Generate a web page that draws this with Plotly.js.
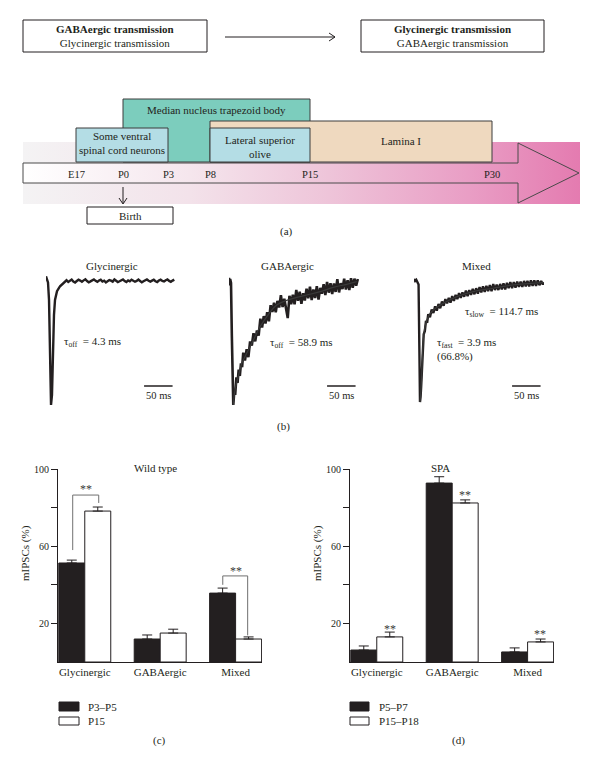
<!DOCTYPE html>
<html><head><meta charset="utf-8">
<script src="https://cdn.plot.ly/plotly-3.0.1.min.js"></script>
<style>html,body{margin:0;padding:0;background:#fff}#chart{width:600px;height:767px}</style>
</head><body><div id="chart"></div>
<script>
// ---------- (a) timeline content ----------
const stages = ['E17','P0','P3','P8','P15','P30'];
const regionNames = ['Median nucleus trapezoid body','Some ventral<br>spinal cord neurons','Lamina I','Lateral superior<br>olive'];
const regionFrom = ['P0','E17','P8','P8'];
const regionTo   = ['P15','P3','P30','P15'];
const topLeft  = ['GABAergic transmission','Glycinergic transmission'];
const topRight = ['Glycinergic transmission','GABAergic transmission'];

// ---------- (b) example mIPSC traces (t in ms, current normalised to peak = -100) ----------
const traceTitles = ['Glycinergic','GABAergic','Mixed'];
const gly_t = [0,1.8,3.5,5.3,7,8.8,10.5,12.3,14,15.8,19.3,24.6,30,
  33,36,39,42,45,48,51,54,57,60,63,66,69,72,75,78,81,84,87,90,93,96,99,102,105,108,111,114,117,120,123,126,129,132,
  135,138,141,144,147,150,153,156,159,162,165,168,171,174,177,180,183,186,189,192,195,198,201,204,207,210,213,216,219,222,225];
const gly_i = [3,0,-2,-16,-64,-100,-92,-56,-28,-16,-9,-5,-2.5,
  -1,-0.2,-1.6,-0.6,0.4,-1.2,-2,-0.8,0.2,-0.5,
  -1.4,-0.3,0.6,-0.9,-1.8,-1.1,-0.2,0.5,-0.7,-1.5,
  -0.4,0.3,-1.2,-0.6,-1.9,-0.8,0,-0.5,-1.3,0.4,
  -0.6,-1.6,-1,-0.1,0.5,-0.9,-1.7,-0.4,-1.1,0.2,
  -0.5,-1.4,-0.7,0.3,-0.8,-1.9,-1,-0.3,0.4,-0.6,
  -1.3,-0.5,0.2,-1,-1.6,-0.4,0.3,-0.8,-1.2,-0.2,
  0.4,-0.7,-1.4,-0.5,0.3];
const gaba_t = [0,1,2,3.5,5,7.5,9,11,13,15,17,19,21,23,25,
  28,31,34,37,40,43,46,49,52,55,58,61,64,67,70,73,76,79,82,85,88,91,94,97,100,103,106,109,112,115,118,121,124,127,130,133,136,139,142,145,148,151,154,157,160,163,166,169,172,175,178,181,184,187,190,193,196,199,202,205,208,211,214,217,220,223,226];
const gaba_i = [1,-5,0,-3,-45,-100,-91,-91,-78,-82.5,-72,-77,-67,-70,-58.5,
  -64.7,-55.8,-62,-49.5,-52.8,-43,-49.5,-40.9,-45,-31.5,
  -38.5,-29.4,-35.3,-26.4,-33.6,-20.8,-26.2,-18.8,-26.4,-17.3,
  -22.6,-12.9,-22.2,-15.7,-22.2,-31,-13.3,-20,-12.4,-20.1,
  -8.6,-17.3,-10,-19.6,-11.3,-17,-7.7,-15.3,-6,-16.7,
  -8.3,-15,-5.7,-16.3,-7,-11.6,-4.1,-12.7,-2.3,-10.8,
  -3.4,-11.9,-3.5,-10.2,-0.1,-10.6,-3.3,-8,0.3,-8.3,
  -1,-8.8,0.6,-7,0.3,-5.3,0];
const gaba_fit_t = [7.5,10.5,16.3,22.3,28,36.8,45.6,54.4,66,75,83.7,95,112.8,136,160,183,206.5,224];
const gaba_fit_i = [-100,-88,-77.5,-67,-61.7,-53.7,-45.8,-37.9,-30,-24.6,-20.6,-18,-15.3,-12.7,-10,-6.6,-4.2,-2.1];
const mix_t = [0,2,4,6,8,9.5,10.5,11.5,12.5,13.5,14.5,15.5,17,19,21,23,25,
  28,31,34,37,40,43,46,49,52,55,58,61,64,67,70,73,76,79,82,85,88,91,94,97,100,103,106,109,112,115,118,121,124,127,130,133,136,139,142,145,148,151,154,157,160,163,166,169,172,175,178,181,184,187,190,193,196,199,202,205,208,211,214,217,220,223,226,228];
const mix_i = [1.7,0,1,-1,-3,-60,-100,-96,-88,-77,-66,-56,-44,-41.5,-33,-34.5,-27.5,
  -30,-23.5,-26.5,-21,-24.5,-19,-22.5,-17,-20.5,-15,
  -18.5,-14,-17.9,-12.5,-16.5,-11.5,-15,-10,-14,-9.5,
  -13,-8,-12.5,-7.5,-11.5,-6.5,-11,-6,-10.5,-5,
  -9.5,-4.5,-9,-4,-8.5,-3.5,-8.5,-2.5,-7.5,-3,
  -7.5,-2.5,-7,-2,-7,-1.5,-6,-1,-6,-1,
  -5.5,-0.5,-5,-0.5,-5,0,-4.5,0,-4.5,0.5,
  -4,0.5,-4,0.5,-3.5,0,-3,-1];
const mix_fit_t = [10.5,12.3,14.6,16.3,19.3,25,34,51.4,74.9,104,139,174,209,228];
const mix_fit_i = [-100,-90,-65,-49,-37.8,-29.5,-24,-18.4,-13,-8.8,-6,-3.3,-1.9,-1.4];
const tauTexts = [['τ<sub>off</sub>\u00a0\u00a0= 4.3 ms'],['τ<sub>off</sub>\u00a0\u00a0= 58.9 ms'],['τ<sub>slow</sub>\u00a0\u00a0= 114.7 ms','τ<sub>fast</sub>\u00a0\u00a0= 3.9 ms<br>(66.8%)']];

// ---------- (c), (d) bar charts ----------
const categories = ['Glycinergic','GABAergic','Mixed'];
const wtNames = ['P3–P5','P15'];
const wt_early = [51.3, 11.9, 35.7];
const wt_early_err = [1.5, 2.1, 2.6];
const wt_late = [78.2, 15.0, 11.9];
const wt_late_err = [2.1, 2.0, 1.1];
const spaNames = ['P5–P7','P15–P18'];
const spa_early = [6.2, 92.7, 5.2];
const spa_early_err = [2.1, 3.3, 2.1];
const spa_late = [13.0, 82.4, 10.4];
const spa_late_err = [2.5, 1.6, 1.5];
const yTickVals = [20,60,100];
const yMinorVals = [40,80];

// ---------- layout helpers ----------
const W=600,H=767, INK='#231f20', FONT='Liberation Serif, Times New Roman, serif';
const PX=x=>x/W, PY=y=>1-y/H;
const stagePos = {E17:76,P0:123,P3:168,P8:210,P15:310,P30:492};
const regionTop = [99,128,121,128];
const regionFill = ['#7ccdbd','#b4dde5','#efd9bf','#b4dde5'];
const regionLabelY = [110,143,141,147];
const BOX_BOTTOM = 162;

const traces = [];
const shapes = [];
const ann = [];
function A(text,x,y,o){ann.push(Object.assign({text:text,x:x,y:y,xref:'x6',yref:'y6',showarrow:false,xanchor:'center',yanchor:'middle',font:{family:FONT,size:11,color:INK}},o||{}));}

// gradient band + arrow
const pinkScale = [[0,'#f4f3f4'],[0.3,'#f3e2ea'],[0.55,'#eec4d9'],[0.8,'#e99ec5'],[1,'#e47bb0']];
traces.push({type:'scatter',xaxis:'x6',yaxis:'y6',x:[23,580,580,23,23],y:[142,142,204,204,142],mode:'lines',line:{width:0},fill:'toself',
  fillgradient:{type:'horizontal',colorscale:pinkScale},hoverinfo:'skip'});
traces.push({type:'scatter',xaxis:'x6',yaxis:'y6',x:[23,518,518,579,518,518,23,23],y:[163,163,143,173,203,183,183,163],mode:'lines',
  line:{width:1,color:'#4a4a4a'},fill:'toself',
  fillgradient:{type:'horizontal',colorscale:[[0,'#ffffff'],[0.3,'#f5e6ed'],[0.55,'#eec4d9'],[0.8,'#e99ec5'],[1,'#e47bb0']]},hoverinfo:'skip'});

// region boxes
regionNames.forEach((n,i)=>{
  const x0=stagePos[regionFrom[i]], x1=stagePos[regionTo[i]];
  shapes.push({type:'rect',xref:'x6',yref:'y6',x0:x0,x1:x1,y0:regionTop[i],y1:BOX_BOTTOM,fillcolor:regionFill[i],line:{color:'#3c3c3c',width:1}});
  const cx = (n==='Lamina I') ? (stagePos['P15']+stagePos['P30'])/2 : (x0+x1)/2;
  A(n,cx,regionLabelY[i],{});
});
stages.forEach(s=>A(s,stagePos[s],174,{font:{family:FONT,size:10.5,color:INK}}));
// birth
shapes.push({type:'line',xref:'x6',yref:'y6',x0:stagePos.P0,x1:stagePos.P0,y0:187,y1:203,line:{color:INK,width:1}});
shapes.push({type:'path',xref:'x6',yref:'y6',path:`M ${stagePos.P0-4} 198 L ${stagePos.P0} 204 L ${stagePos.P0+4} 198`,line:{color:INK,width:1}});
shapes.push({type:'rect',xref:'x6',yref:'y6',x0:87,x1:173,y0:207,y1:224,line:{color:INK,width:1},fillcolor:'#ffffff'});
A('Birth',130,215.5,{});
// top boxes
shapes.push({type:'rect',xref:'x6',yref:'y6',x0:23,x1:207,y0:20,y1:52,line:{color:INK,width:1}});
shapes.push({type:'rect',xref:'x6',yref:'y6',x0:361,x1:544,y0:20,y1:52,line:{color:INK,width:1}});
A('<b>'+topLeft[0]+'</b><br>'+topLeft[1],115,36,{});
A('<b>'+topRight[0]+'</b><br>'+topRight[1],452.5,36,{});
shapes.push({type:'line',xref:'x6',yref:'y6',x0:225,x1:335,y0:37,y1:37,line:{color:INK,width:1}});
shapes.push({type:'path',xref:'x6',yref:'y6',path:'M 329 33 L 335 37 L 329 41',line:{color:INK,width:1}});
A('(a)',286,231,{});

// ---------- (b) ----------
const tr = [[gly_t,gly_i,null,null],[gaba_t,gaba_i,gaba_fit_t,gaba_fit_i],[mix_t,mix_i,mix_fit_t,mix_fit_i]];
const trDomX = [[46,176],[229,359],[414,544]];
const trRangeY = [[-104,6.4],[-104,5.6],[-106.6,7.4]];
tr.forEach((d,k)=>{
  const ax = k+1;
  const xr = 'x'+(ax===1?'':ax), yr = 'y'+(ax===1?'':ax);
  traces.push({type:'scatter',mode:'lines',x:d[0],y:d[1],xaxis:xr,yaxis:yr,
    line:{color:INK,width:k===1?2.6:2.4},cliponaxis:false,hoverinfo:'skip'});
  if(d[2]) traces.push({type:'scatter',mode:'lines',x:d[2],y:d[3],xaxis:xr,yaxis:yr,
    line:{color:'#3a3a3a',width:1.2,shape:'spline'},cliponaxis:false,hoverinfo:'skip'});
  shapes.push({type:'line',xref:xr,yref:'y6',x0:172,x1:222,y0:386,y1:386,line:{color:INK,width:1.5}});
  ann.push({text:'50 ms',x:197,y:PY(395),xref:xr,yref:'paper',showarrow:false,xanchor:'center',yanchor:'middle',font:{family:FONT,size:10.5,color:INK}});
});
A(traceTitles[0],112,266,{});
A(traceTitles[1],287,266,{});
A(traceTitles[2],476,266,{});
A(tauTexts[0][0],62,342,{xanchor:'left'});
A(tauTexts[1][0],268,343,{xanchor:'left'});
A(tauTexts[2][0],463,312,{xanchor:'left'});
A(tauTexts[2][1],435,349,{xanchor:'left',align:'left'});
A('(b)',283,426,{});

// ---------- (c), (d) ----------
function barTrace(vals,errs,name,fill,ax){
  return {type:'bar',x:categories,y:vals,name:name,xaxis:'x'+ax,yaxis:'y'+ax,
    marker:{color:fill,line:{color:INK,width:1}},
    error_y:{type:'data',array:errs,arrayminus:errs.map(()=>0),symmetric:false,color:INK,thickness:1,width:5},
    hoverinfo:'skip'};
}
traces.push(barTrace(wt_early,wt_early_err,wtNames[0],INK,4));
traces.push(barTrace(wt_late,wt_late_err,wtNames[1],'#ffffff',4));
traces.push(barTrace(spa_early,spa_early_err,spaNames[0],INK,5));
traces.push(barTrace(spa_late,spa_late_err,spaNames[1],'#ffffff',5));

function barAxes(x0,x1){
  return [{domain:[PX(x0),PX(x1)],range:[-0.355,2.35],type:'category',showline:true,linecolor:INK,linewidth:1,ticks:'',
      showgrid:false,zeroline:false,tickfont:{family:FONT,size:11,color:INK},fixedrange:true},
    {domain:[PY(662),PY(469)],range:[0,100],showline:true,linecolor:INK,linewidth:1,ticks:'outside',ticklen:6,tickwidth:1,tickcolor:INK,
      tickmode:'array',tickvals:yTickVals,showgrid:false,zeroline:false,tickfont:{family:FONT,size:10,color:INK},fixedrange:true,
      minor:{tickmode:'array',tickvals:yMinorVals,ticks:'outside',ticklen:6,tickwidth:1,tickcolor:INK,showgrid:false}}];
}
const [xa4,ya4] = barAxes(58,262);
const [xa5,ya5] = barAxes(350,554);
xa4.anchor='y4'; ya4.anchor='x4'; xa5.anchor='y5'; ya5.anchor='x5';

// brackets & stars
const BR='#707070';
function seg(ax,x0,y0,x1,y1){shapes.push({type:'line',xref:'x'+ax,yref:'y'+ax,x0:x0,x1:x1,y0:y0,y1:y1,line:{color:BR,width:1}});}
seg(4,-0.16,58,-0.16,86.5); seg(4,-0.16,86.5,0.185,86.5); seg(4,0.185,86.5,0.185,82.4);
seg(4,1.83,40,1.83,44.6); seg(4,1.83,44.6,2.16,44.6); seg(4,2.16,44.6,2.16,13.8);
function star(ax,x,y){ann.push({text:'**',x:x,y:y,xref:'x'+ax,yref:'y'+ax,showarrow:false,xanchor:'center',yanchor:'middle',font:{family:FONT,size:12,color:'#3a3a3a'}});}
star(4,0.01,89.5); star(4,2.0,47.2);
star(5,0.17,17.1); star(5,1.17,86.6); star(5,2.17,14.5);

A('Wild type',155,468,{});
A('SPA',440,468,{});
A('mIPSCs (%)',25,553,{textangle:-90});
A('mIPSCs (%)',317,553,{textangle:-90});
// legends
shapes.push({type:'rect',xref:'x6',yref:'y6',x0:59,x1:79,y0:702,y1:711,fillcolor:INK,line:{color:INK,width:1}});
shapes.push({type:'rect',xref:'x6',yref:'y6',x0:59,x1:79,y0:717,y1:725,fillcolor:'#fff',line:{color:INK,width:1}});
A(wtNames[0],86,706.5,{xanchor:'left'}); A(wtNames[1],86,721,{xanchor:'left'});
shapes.push({type:'rect',xref:'x6',yref:'y6',x0:350,x1:369,y0:702,y1:711,fillcolor:INK,line:{color:INK,width:1}});
shapes.push({type:'rect',xref:'x6',yref:'y6',x0:350,x1:369,y0:717,y1:725,fillcolor:'#fff',line:{color:INK,width:1}});
A(spaNames[0],377,706.5,{xanchor:'left'}); A(spaNames[1],377,721,{xanchor:'left'});
A('(c)',159,740,{}); A('(d)',458,740,{});

const hid = (d,r,anchor,extra)=>Object.assign({domain:d,range:r,visible:false,showgrid:false,zeroline:false,fixedrange:true,anchor:anchor},extra||{});
const layout = {
  width:W,height:H,margin:{l:0,r:0,t:0,b:0},paper_bgcolor:'#fff',plot_bgcolor:'rgba(0,0,0,0)',showlegend:false,
  barmode:'group',bargap:0.311,bargroupgap:0,
  xaxis: hid([PX(trDomX[0][0]),PX(trDomX[0][1])],[0,228],'y'),
  yaxis: hid([PY(410),PY(272)],trRangeY[0],'x'),
  xaxis2: hid([PX(trDomX[1][0]),PX(trDomX[1][1])],[0,228],'y2'),
  yaxis2: hid([PY(410),PY(272)],trRangeY[1],'x2'),
  xaxis3: hid([PX(trDomX[2][0]),PX(trDomX[2][1])],[0,228],'y3'),
  yaxis3: hid([PY(410),PY(272)],trRangeY[2],'x3'),
  xaxis4: xa4, yaxis4: ya4, xaxis5: xa5, yaxis5: ya5,
  xaxis6: hid([0,1],[0,600],'y6'),
  yaxis6: hid([0,1],[767,0],'x6'),
  shapes: shapes, annotations: ann,
  font:{family:FONT,color:INK}
};
Plotly.newPlot('chart',traces,layout,{staticPlot:true,displayModeBar:false});
</script></body></html>
